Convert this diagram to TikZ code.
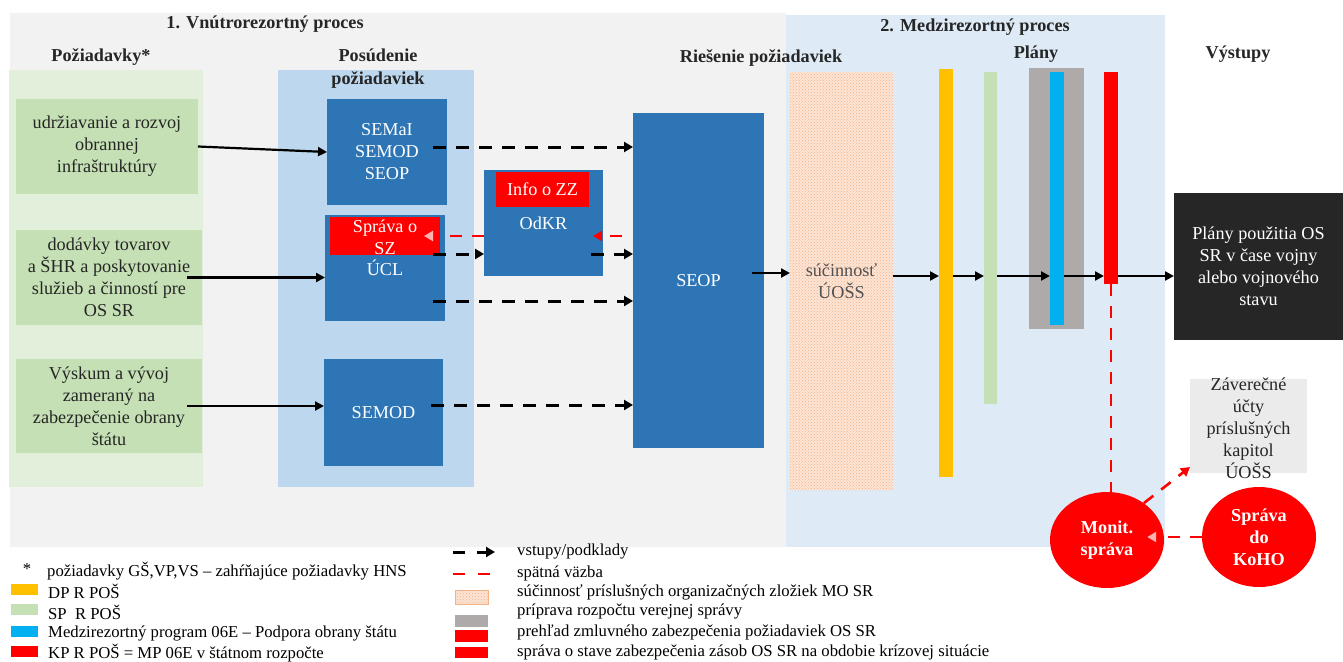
\documentclass[tikz,border=0pt]{standalone}
\usepackage{fontspec}
\setmainfont{Liberation Serif}
\usetikzlibrary{arrows.meta,calc,patterns,shapes.geometric}
\definecolor{bggray}{HTML}{F2F2F2}
\definecolor{region}{HTML}{DEEBF7}
\definecolor{ltgreen}{HTML}{E2EFDA}
\definecolor{boxgreen}{HTML}{C5E0B4}
\definecolor{ltblue}{HTML}{BDD7EE}
\definecolor{boxblue}{HTML}{2E75B6}
\definecolor{baryellow}{HTML}{FFC000}
\definecolor{grayrect}{HTML}{AEAAAA}
\definecolor{barcyan}{HTML}{00B0F0}
\definecolor{blackbox}{HTML}{262626}
\definecolor{zavgray}{HTML}{EBEBEB}
\definecolor{hatchbg}{HTML}{FCE4D6}
\definecolor{hatchdot}{HTML}{F4B183}
\definecolor{textgray}{HTML}{262626}
\begin{document}
\begin{tikzpicture}[x=1pt,y=-1pt,
  txt/.style={font=\fontsize{18.2}{22}\selectfont, align=center, inner sep=0},
  ttl/.style={font=\fontsize{18.2}{23}\selectfont\bfseries, align=center, inner sep=0, text=textgray},
  leg/.style={font=\fontsize{16.7}{18}\selectfont, anchor=west, inner sep=0},
  rect/.style={rectangle, inner sep=0, outer sep=0},
  gbox/.style={rect, txt, fill=boxgreen, text=textgray},
  bbox/.style={rect, txt, fill=boxblue, text=white},
  rbox/.style={rect, txt, fill=red, text=white},
  bar/.style={rect},
  hatchbox/.style={rect, txt, fill=hatchbg, text=textgray!80, postaction={pattern=crosshatch dots, pattern color=hatchdot}},
  oval/.style={ellipse, inner sep=0, fill=red, text=white, font=\fontsize{18.2}{22}\selectfont\bfseries, align=center},
  solidar/.style={line width=2.2pt, -{Triangle[length=9pt,width=9pt]}},
  dashar/.style={line width=3pt, dash pattern=on 13pt off 10pt, -{Triangle[length=9pt,width=10pt]}},
  reddash/.style={red, line width=2.6pt, dash pattern=on 12pt off 10pt},
  redar/.style={reddash, -{Triangle[length=9pt,width=10pt]}},
  redfaint/.style={reddash, -{Triangle[length=9pt,width=10pt,color=red!30]}}
]
\useasboundingbox[fill=white] (0,0) rectangle (1343,661);
% background areas
\fill[bggray] (10,13) rectangle (786,547);
\fill[region] (786,15) rectangle (1165,547);
\fill[ltgreen] (9,70) rectangle (203,487);
\fill[ltblue] (278,70) rectangle (474,487);
% titles
\node[ttl] (t1) at (265,24) {1. Vnútrorezortný proces};
\node[ttl] (t2) at (101,57) {Požiadavky*};
\node[ttl] (t3) at (378,68.5) {Posúdenie\\požiadaviek};
\node[ttl] (t4) at (761,58) {Riešenie požiadaviek};
\node[ttl] (t5) at (975,27) {2. Medzirezortný proces};
\node[ttl] (t6) at (1036,54) {Plány};
\node[ttl] (t7) at (1238,54) {Výstupy};
% requirement boxes
\node[gbox, minimum width=182pt, minimum height=95pt] (g1) at (107,146.5) {udržiavanie a rozvoj\\obrannej\\infraštruktúry};
\node[gbox, minimum width=186pt, minimum height=95pt] (g2) at (109,277.5) {dodávky tovarov\\a ŠHR a poskytovanie\\služieb a činností pre\\OS SR};
\node[gbox, minimum width=186pt, minimum height=94pt] (g3) at (109,406) {Výskum a vývoj\\zameraný na\\zabezpečenie obrany\\štátu};
% assessment boxes
\node[bbox, minimum width=120pt, minimum height=106pt] (semai) at (387,152) {SEMaI\\SEMOD\\SEOP};
\node[bbox, minimum width=120pt, minimum height=106pt] (ucl) at (385,268) {ÚCL};
\node[rbox, minimum width=110pt, minimum height=38pt] (spr) at (385,236) {};
\node[txt, text=white] (sprt) at (385,237.5) {Správa o\\SZ};
\node[bbox, minimum width=119pt, minimum height=107pt] (semod) at (383.5,412.5) {SEMOD};
\node[bbox, minimum width=119pt, minimum height=106pt] (odkr) at (543.5,223) {OdKR};
\node[rbox, minimum width=93pt, minimum height=35pt] (info) at (542.5,189.5) {Info o ZZ};
\node[bbox, minimum width=131pt, minimum height=335pt] (seop) at (698.5,280.5) {SEOP};
% cooperation
\node[hatchbox, minimum width=103pt, minimum height=418pt] (hatch) at (841.5,281) {súčinnosť\\ÚOŠS};
% plan bars
\node[bar, fill=baryellow, minimum width=14pt, minimum height=408pt] (yellow) at (946,273) {};
\node[bar, fill=boxgreen, minimum width=13pt, minimum height=332pt] (gbar) at (990.5,238) {};
\node[bar, fill=grayrect, minimum width=55pt, minimum height=261pt] (grayr) at (1056.5,198.5) {};
\node[bar, fill=barcyan, minimum width=14pt, minimum height=253pt] (cyanb) at (1057,198.5) {};
\node[bar, fill=red, minimum width=14pt, minimum height=212pt] (redb) at (1111,178) {};
% outputs
\node[rect, txt, fill=blackbox, text=white, minimum width=169pt, minimum height=147pt] (blackb) at (1258.5,266.5) {Plány použitia OS\\SR v čase vojny\\alebo vojnového\\stavu};
\node[rect, fill=zavgray, minimum width=117pt, minimum height=94pt] (zav) at (1248.5,426) {};
\node[txt, text=textgray] (zavt) at (1248.5,428) {Záverečné\\účty\\príslušných\\kapitol\\ÚOŠS};
\node[oval, minimum width=114pt, minimum height=96pt] (monit) at (1107,540) {Monit.\\správa};
\node[oval, minimum width=114pt, minimum height=100pt] (koho) at (1259,537) {Správa\\do\\KoHO};
% connectors
\coordinate (row) at (0,276);
\draw[solidar] (g1.east) -- (semai.west);
\draw[solidar] ([xshift=-15pt]g2.east) -- (g2.east -| ucl.west);
\draw[solidar] ([xshift=-15pt]g3.east) -- (g3.east -| semod.west);
\path ($(semai.east)+(-14,-5)$) coordinate (d1);
\draw[dashar] (d1) -- (d1 -| seop.west);
\path ($(ucl.east)+(-12,-14)$) coordinate (d2);
\draw[dashar] (d2) -- (d2 -| odkr.west);
\path ($(odkr.east)+(-12,31)$) coordinate (d3);
\draw[dashar] (d3) -- (d3 -| seop.west);
\path ($(ucl.east)+(-12,33)$) coordinate (d4);
\draw[dashar] (d4) -- (d4 -| seop.west);
\path ($(semod.east)+(-12,-7.5)$) coordinate (d5);
\draw[dashar] (d5) -- (d5 -| seop.west);
\path ($(seop.west |- spr.center)+(-11,0)$) coordinate (r1);
\draw[redar] (r1) -- ($(odkr.east |- spr.center)+(-10,0)$);
\draw[redfaint] (odkr.west |- spr.center) -- ($(spr.east)+(-16,0)$);
\path ($(seop.east)+(-12,-7.5)$) coordinate (s1);
\draw[solidar] (s1) -- (s1 -| hatch.west);
\draw[solidar] (hatch.east |- row) -- (yellow.west |- row);
\draw[solidar] (yellow.east |- row) -- (gbar.west |- row);
\draw[solidar] (gbar.east |- row) -- (cyanb.west |- row);
\draw[solidar] (cyanb.east |- row) -- (redb.west |- row);
\draw[solidar] (redb.east |- row) -- (blackb.west |- row);
\draw[reddash] (redb.south) -- (redb.south |- monit.north);
\draw[redar] (monit.45) -- ($(zav.south west)+(0,-6)$);
\draw[redfaint] (koho.west) -- ($(koho.west -| monit.east)+(-17,0)$);
% legend left
\node[leg, anchor=center] (ast) at (27,569) {*};
\node[leg] (l0) at (47,571) {požiadavky GŠ,VP,VS – zahŕňajúce požiadavky HNS};
\fill[baryellow] (11,584) rectangle (38,595);
\fill[boxgreen] (11,604) rectangle (38,615);
\fill[barcyan] (11,626) rectangle (38,637);
\fill[red] (11,646) rectangle (38,657);
\node[leg] (l1) at (48,591) {DP R POŠ};
\node[leg] (l2) at (48,612) {SP\ \ R POŠ};
\node[leg] (l3) at (48,633) {Medzirezortný program 06E – Podpora obrany štátu};
\node[leg] (l4) at (48,653) {KP R POŠ = MP 06E v štátnom rozpočte};
% legend right
\coordinate (la1) at (453,552);
\coordinate (la2) at (495,552);
\draw[dashar, dash pattern=on 12pt off 12pt] (la1) -- (la2);
\coordinate (lb1) at (453,574);
\coordinate (lb2) at (490,574);
\draw[reddash, dash pattern=on 12pt off 13pt] (lb1) -- (lb2);
\filldraw[fill=hatchbg, draw=hatchdot, line width=1pt, postaction={pattern=crosshatch dots, pattern color=hatchdot}] (455,590) rectangle (488,604);
\fill[grayrect] (455,615) rectangle (488,627);
\fill[red] (455,630) rectangle (488,642);
\fill[red] (455,647) rectangle (488,658);
\node[leg] (m1) at (517,552) {vstupy/podklady};
\node[leg] (m2) at (517,573) {spätná väzba};
\node[leg] (m3) at (517,592) {súčinnosť príslušných organizačných zložiek MO SR};
\node[leg] (m4) at (517,611) {príprava rozpočtu verejnej správy};
\node[leg] (m5) at (517,632) {prehľad zmluvného zabezpečenia požiadaviek OS SR};
\node[leg] (m6) at (517,652) {správa o stave zabezpečenia zásob OS SR na obdobie krízovej situácie};
\end{tikzpicture}
\end{document}
